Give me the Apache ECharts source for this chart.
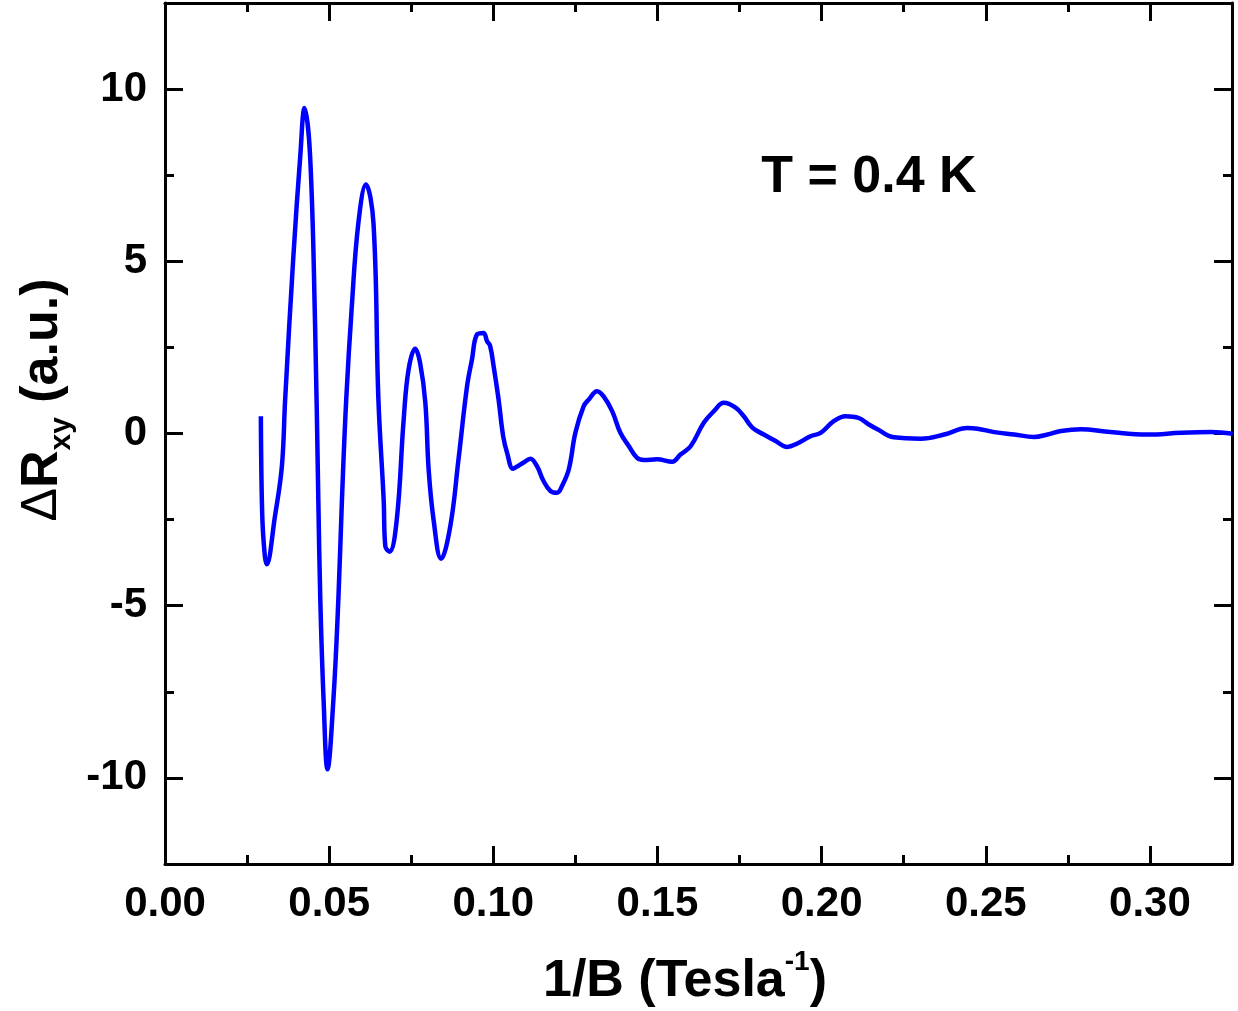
<!DOCTYPE html>
<html>
<head>
<meta charset="utf-8">
<script src="https://cdn.jsdelivr.net/npm/echarts@6/dist/echarts.min.js"></script>
<style>
  html, body { margin: 0; padding: 0; background: #fff; }
  #chart { width: 1238px; height: 1011px; }
</style>
</head>
<body>
<div id="chart"></div>
<script>
// 1/B (Tesla^-1)
const invB = [
  0.0292, 0.0295, 0.0300, 0.0310, 0.0335, 0.0356, 0.0366, 0.0391, 0.0412, 0.0425,
  0.0442, 0.0457, 0.0467, 0.0473, 0.0483, 0.0495, 0.0513, 0.0528, 0.0539, 0.0552,
  0.0569, 0.0589, 0.0612, 0.0635, 0.0650, 0.0666, 0.0671, 0.0684, 0.0706, 0.0727,
  0.0742, 0.0762, 0.0777, 0.0793, 0.0803, 0.0818, 0.0841, 0.0869, 0.0894, 0.0920,
  0.0935, 0.0950, 0.0970, 0.0981, 0.0990, 0.1001, 0.1016, 0.1030, 0.1042, 0.1060,
  0.1074, 0.1091, 0.1113, 0.1133, 0.1153, 0.1174, 0.1194, 0.1209, 0.1230, 0.1250,
  0.1275, 0.1291, 0.1316, 0.1336, 0.1362, 0.1387, 0.1413, 0.1438, 0.1458, 0.1499,
  0.1545, 0.1570, 0.1601, 0.1641, 0.1672, 0.1702, 0.1738, 0.1763, 0.1789, 0.1824,
  0.1860, 0.1895, 0.1926, 0.1966, 0.1997, 0.2037, 0.2073, 0.2113, 0.2144, 0.2170,
  0.2220, 0.2302, 0.2373, 0.2444, 0.2475, 0.2526, 0.2587, 0.2647, 0.2688, 0.2729,
  0.2790, 0.2871, 0.2993, 0.3095, 0.3186, 0.3252
]
// delta R_xy (a.u.)
const dRxy = [
  0.50, -1.92, -3.08, -3.80, -2.40, -0.95, 0.99, 5.14, 8.05, 9.45,
  8.05, 3.21, -1.92, -4.82, -7.72, -9.75, -7.72, -4.82, -1.92, 0.99,
  3.69, 6.11, 7.23, 6.11, 0.99, -1.92, -3.27, -3.43, -2.50, 0.41,
  1.86, 2.46, 2.05, 0.89, -1.04, -2.50, -3.64, -2.69, -0.75, 1.37,
  2.15, 2.87, 2.92, 2.68, 2.55, 1.95, 0.99, -0.08, -0.56, -1.02,
  -0.95, -0.85, -0.73, -0.95, -1.38, -1.67, -1.72, -1.53, -1.04, 0.02,
  0.79, 0.99, 1.23, 1.08, 0.65, 0.02, -0.37, -0.71, -0.77, -0.75,
  -0.82, -0.61, -0.37, 0.31, 0.65, 0.89, 0.75, 0.50, 0.17, -0.03,
  -0.22, -0.39, -0.29, -0.08, 0.02, 0.36, 0.50, 0.45, 0.26, 0.12,
  -0.11, -0.15, -0.03, 0.16, 0.14, 0.04, -0.03, -0.10, -0.03, 0.07,
  0.12, 0.05, -0.03, 0.02, 0.04, -0.01
]
const xRange = [0, 0.325]
const yRange = [-12.5, 12.5]
const tempLabel = 'T = 0.4 K'

const FONT = '"Liberation Sans", Arial, sans-serif'
const black = '#000'

function xAxisDef(pos, showLabel) {
  return {
    type: 'value', position: pos, min: xRange[0], max: xRange[1], interval: 0.05,
    axisLine: {show: true, onZero: false, lineStyle: {color: black, width: 3}},
    axisTick: {show: true, inside: true, length: 18, lineStyle: {color: black, width: 3}},
    minorTick: {show: true, splitNumber: 2, length: 9, lineStyle: {color: black, width: 3}},
    splitLine: {show: false},
    axisLabel: {
      show: showLabel, showMaxLabel: false, margin: 19,
      color: black, fontSize: 42, fontWeight: 'bold', fontFamily: FONT,
      formatter: v => v.toFixed(2)
    }
  }
}

function yAxisDef(pos, showLabel) {
  return {
    type: 'value', position: pos, min: yRange[0], max: yRange[1], splitNumber: 5,
    axisLine: {show: true, onZero: false, lineStyle: {color: black, width: 3}},
    axisTick: {show: true, inside: true, length: 18, lineStyle: {color: black, width: 3}},
    minorTick: {show: true, splitNumber: 2, length: 9, lineStyle: {color: black, width: 3}},
    splitLine: {show: false},
    axisLabel: {
      show: showLabel, showMinLabel: false, showMaxLabel: false, margin: 18,
      color: black, fontSize: 42, fontWeight: 'bold', fontFamily: FONT
    }
  }
}

const chart = echarts.init(document.getElementById('chart'), null, {renderer: 'canvas'})
chart.setOption({
  animation: false,
  backgroundColor: '#fff',
  grid: {left: 165, right: 6, top: 3, bottom: 147, containLabel: false},
  xAxis: [xAxisDef('bottom', true), xAxisDef('top', false)],
  yAxis: [yAxisDef('left', true), yAxisDef('right', false)],
  series: [{
    type: 'line',
    data: invB.map((x, i) => [x, dRxy[i]]),
    showSymbol: false,
    smooth: 0.4,
    lineStyle: {color: '#0000ff', width: 4.5},
    xAxisIndex: 0, yAxisIndex: 0
  }],
  graphic: [
    {
      type: 'text', x: 869, y: 178,
      style: {
        text: tempLabel, align: 'center', verticalAlign: 'middle',
        fill: black, fontSize: 52, fontWeight: 'bold', fontFamily: FONT
      }
    },
    {
      // x axis title with superscript
      type: 'text', x: 685, y: 978,
      style: {
        text: '{a|1/B (Tesla}{s|-1}{a|)}', align: 'center', verticalAlign: 'middle',
        fill: black, fontFamily: FONT,
        rich: {
          a: {fontSize: 52, fontWeight: 'bold', fontFamily: FONT, lineHeight: 60, verticalAlign: 'bottom'},
          s: {fontSize: 28, fontWeight: 'bold', fontFamily: FONT, lineHeight: 30, verticalAlign: 'top'}
        }
      }
    },
    {
      // y axis title with subscript
      type: 'text', x: 47, y: 400, rotation: Math.PI / 2,
      style: {
        text: '{d|Δ}{a|R}{b|xy}{a| (a.u.)}', align: 'center', verticalAlign: 'middle',
        fill: black, fontFamily: FONT,
        rich: {
          d: {fontSize: 50, fontWeight: 'normal', fontFamily: FONT, lineHeight: 60, verticalAlign: 'top'},
          a: {fontSize: 52, fontWeight: 'bold', fontFamily: FONT, lineHeight: 60, verticalAlign: 'top'},
          b: {fontSize: 30, fontWeight: 'bold', fontFamily: FONT, lineHeight: 30, verticalAlign: 'bottom', padding: [43, 0, 0, 0]}
        }
      }
    }
  ]
})
</script>
</body>
</html>
